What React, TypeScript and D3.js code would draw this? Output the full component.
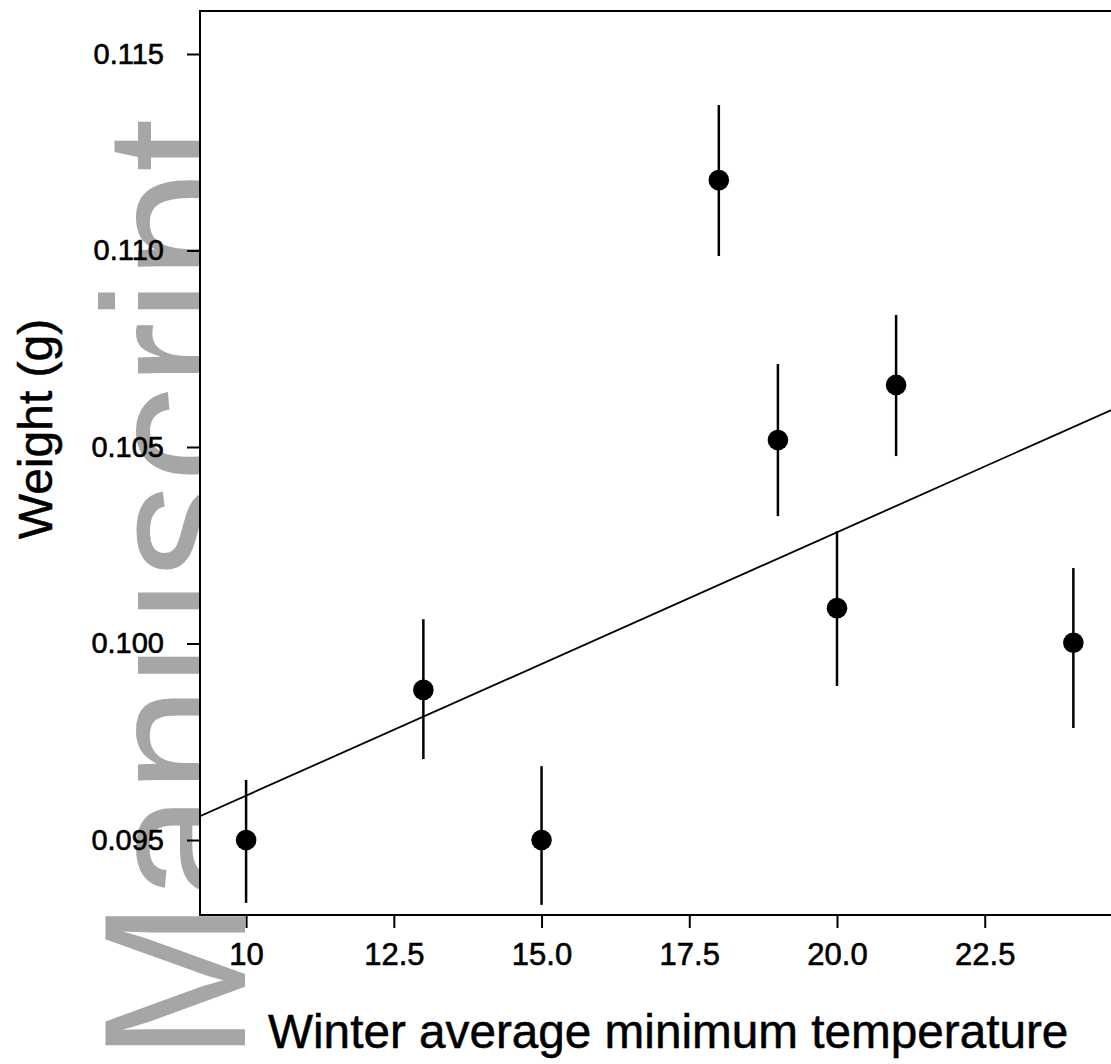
import React, { useRef, useEffect } from "react";
import * as d3 from "d3";

// winter average minimum temperature per site
const temps = [10, 13, 15, 18, 19, 20, 21, 24];
// mean weight (g) and error bar ends
const weights = [0.095, 0.09882, 0.095, 0.11179, 0.10518, 0.1009, 0.10658, 0.10002];
const upper = [0.09653, 0.10062, 0.09688, 0.1137, 0.10711, 0.10286, 0.10836, 0.10192];
const lower = [0.0934, 0.09706, 0.09335, 0.10986, 0.10324, 0.09892, 0.10477, 0.09785];

// fitted line: weight = intercept + slope * temp
const intercept = 0.08943;
const slope = 0.00067;

const xTicks = [10, 12.5, 15, 17.5, 20, 22.5];
const xTickLabels = ["10", "12.5", "15.0", "17.5", "20.0", "22.5"];
const yTicks = [0.095, 0.1, 0.105, 0.11, 0.115];
const yTickLabels = ["0.095", "0.100", "0.105", "0.110", "0.115"];

const W = 1111;
const H = 1064;
const FONT = "'Liberation Sans', Arial, Helvetica, sans-serif";

export default function App() {
  const svgRef = useRef(null);

  useEffect(() => {
    const svg = d3.select(svgRef.current);
    svg.selectAll("*").remove();

    const left = 200, right = 1136, top = 11, bottom = 915;

    const x = d3.scaleLinear().domain([9.22, 25.06]).range([left, right]);
    const y = d3.scaleLinear().domain([0.093092, 0.116094]).range([bottom, top]);

    // watermark, sits behind the plot panel
    svg
      .append("text")
      .attr("transform", "translate(245,1061) rotate(-90) scale(0.954,1)")
      .attr("font-family", FONT)
      .attr("font-size", 202)
      .attr("fill", "#a6a6a6")
      .text("Manuscript");

    svg.append("defs")
      .append("clipPath")
      .attr("id", "panel")
      .append("rect")
      .attr("x", left)
      .attr("y", top)
      .attr("width", right - left)
      .attr("height", bottom - top);

    svg
      .append("rect")
      .attr("x", left)
      .attr("y", top)
      .attr("width", right - left)
      .attr("height", bottom - top)
      .attr("fill", "white");

    const panel = svg.append("g").attr("clip-path", "url(#panel)");

    const xs = x.domain();
    panel
      .append("line")
      .attr("x1", x(xs[0]))
      .attr("x2", x(xs[1]))
      .attr("y1", y(intercept + slope * xs[0]))
      .attr("y2", y(intercept + slope * xs[1]))
      .attr("stroke", "black")
      .attr("stroke-width", 1.8);

    panel
      .selectAll(".err")
      .data(temps)
      .join("line")
      .attr("class", "err")
      .attr("x1", d => x(d))
      .attr("x2", d => x(d))
      .attr("y1", (d, i) => y(upper[i]))
      .attr("y2", (d, i) => y(lower[i]))
      .attr("stroke", "black")
      .attr("stroke-width", 2.5);

    panel
      .selectAll(".pt")
      .data(temps)
      .join("circle")
      .attr("class", "pt")
      .attr("cx", d => x(d))
      .attr("cy", (d, i) => y(weights[i]))
      .attr("r", 10.3)
      .attr("fill", "black");

    svg
      .append("rect")
      .attr("x", left)
      .attr("y", top)
      .attr("width", right - left)
      .attr("height", bottom - top)
      .attr("fill", "none")
      .attr("stroke", "black")
      .attr("stroke-width", 2);

    const yAxis = d3
      .axisLeft(y)
      .tickValues(yTicks)
      .tickFormat((d, i) => yTickLabels[i])
      .tickSize(13)
      .tickPadding(23);
    const gy = svg.append("g").attr("transform", `translate(${left},0)`).call(yAxis);
    gy.select(".domain").remove();
    gy.attr("font-family", FONT).attr("font-size", 29);
    gy.selectAll("line").attr("stroke-width", 2);
    gy.selectAll("text").attr("fill", "black").attr("stroke", "black").attr("stroke-width", 0.6);

    const xAxis = d3
      .axisBottom(x)
      .tickValues(xTicks)
      .tickFormat((d, i) => xTickLabels[i])
      .tickSize(13)
      .tickPadding(15);
    const gx = svg.append("g").attr("transform", `translate(0,${bottom})`).call(xAxis);
    gx.select(".domain").remove();
    gx.attr("font-family", FONT).attr("font-size", 31);
    gx.selectAll("line").attr("stroke-width", 2);
    gx.selectAll("text").attr("fill", "black").attr("stroke", "black").attr("stroke-width", 0.6);

    svg
      .append("text")
      .attr("x", 268)
      .attr("y", 1048)
      .attr("font-family", FONT)
      .attr("font-size", 47.7)
      .attr("fill", "black")
      .attr("stroke", "black")
      .attr("stroke-width", 0.5)
      .text("Winter average minimum temperature");

    svg
      .append("text")
      .attr("transform", "translate(52,429) rotate(-90)")
      .attr("text-anchor", "middle")
      .attr("font-family", FONT)
      .attr("font-size", 48)
      .attr("fill", "black")
      .attr("stroke", "black")
      .attr("stroke-width", 0.5)
      .text("Weight (g)");
  }, []);

  return (
    <svg
      ref={svgRef}
      width={W}
      height={H}
      style={{ position: "absolute", left: 0, top: 0, background: "white" }}
    />
  );
}
